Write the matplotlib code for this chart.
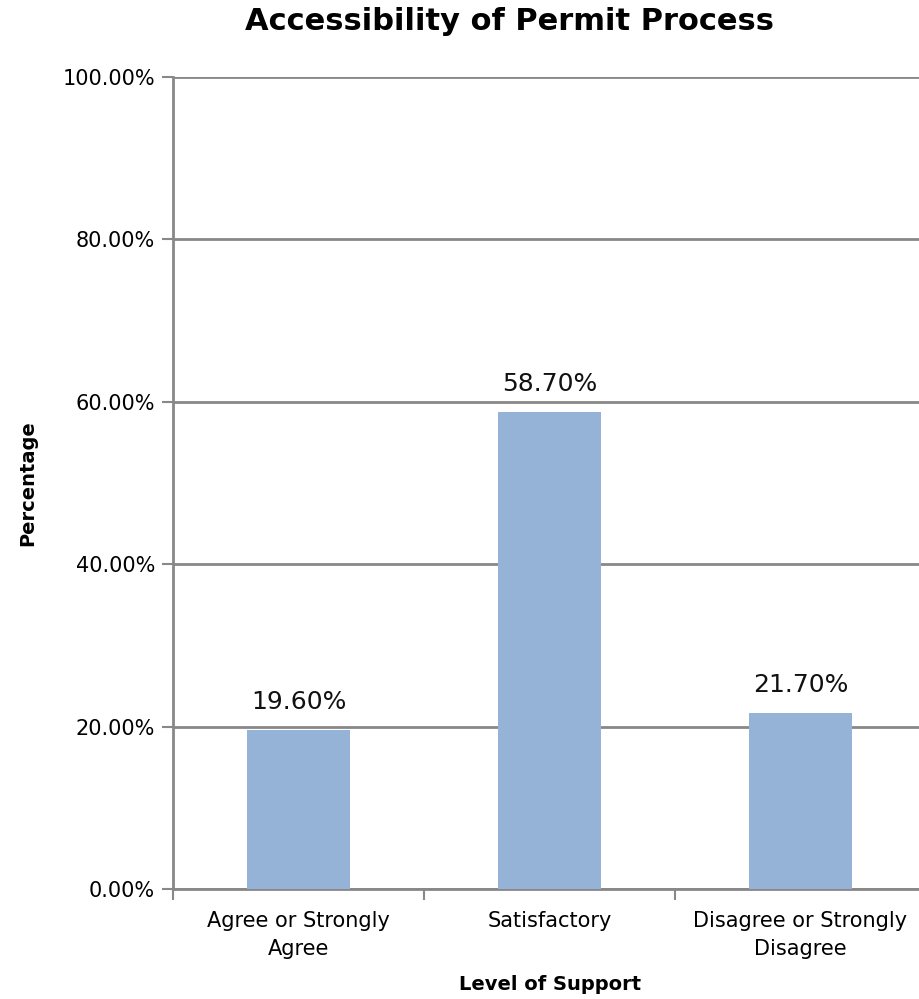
import matplotlib
matplotlib.use("Agg")
import matplotlib.pyplot as plt
from matplotlib.ticker import FuncFormatter, MultipleLocator

categories = ["Agree or Strongly\nAgree", "Satisfactory", "Disagree or Strongly\nDisagree"]
values = [19.60, 58.70, 21.70]
y_ticks = [0, 20, 40, 60, 80, 100]

bar_color = "#95b3d7"
grid_color = "#888888"

plt.rcParams["font.family"] = ["DejaVu Sans"]

fig = plt.figure(figsize=(9.2, 9.99), dpi=100)
ax = fig.add_axes([173 / 920, 110 / 999, 753 / 920, 812 / 999])

x = list(range(len(categories)))
ax.bar(x, values, width=0.41, color=bar_color, zorder=3)

for xi, v in zip(x, values):
    ax.text(xi, v + 2.0, f"{v:.2f}%", ha="center", va="bottom", fontsize=18, color="#111111")

ax.set_xlim(-0.5, len(categories) - 0.5)
ax.set_ylim(0, 100)
ax.set_yticks(y_ticks)
ax.yaxis.set_major_formatter(FuncFormatter(lambda v, _: f"{v:.2f}%"))
ax.tick_params(axis="y", labelsize=15, length=8, width=1.5, color=grid_color, pad=5)
ax.yaxis.grid(True, color=grid_color, linewidth=2, zorder=0)

ax.set_xticks(x)
ax.set_xticklabels(categories, fontsize=15, linespacing=1.5)
ax.tick_params(axis="x", which="major", length=0, pad=16)
ax.xaxis.set_minor_locator(MultipleLocator(1, offset=0.5))
ax.tick_params(axis="x", which="minor", length=8, width=1.5, color=grid_color)

for side in ("top", "right"):
    ax.spines[side].set_visible(False)
for side in ("left", "bottom"):
    ax.spines[side].set_color(grid_color)
    ax.spines[side].set_linewidth(2)

fig.text(510 / 920, 1 - 22 / 999, "Accessibility of Permit Process",
         ha="center", va="center", fontsize=22, fontweight="bold")
ax.set_ylabel("Percentage", fontsize=14, fontweight="bold", labelpad=18)
ax.set_xlabel("Level of Support", fontsize=14, fontweight="bold", labelpad=14)
ax.xaxis.set_label_coords((550 - 173) / 753, -0.106)

fig.savefig("out.png", dpi=100, facecolor="white")
